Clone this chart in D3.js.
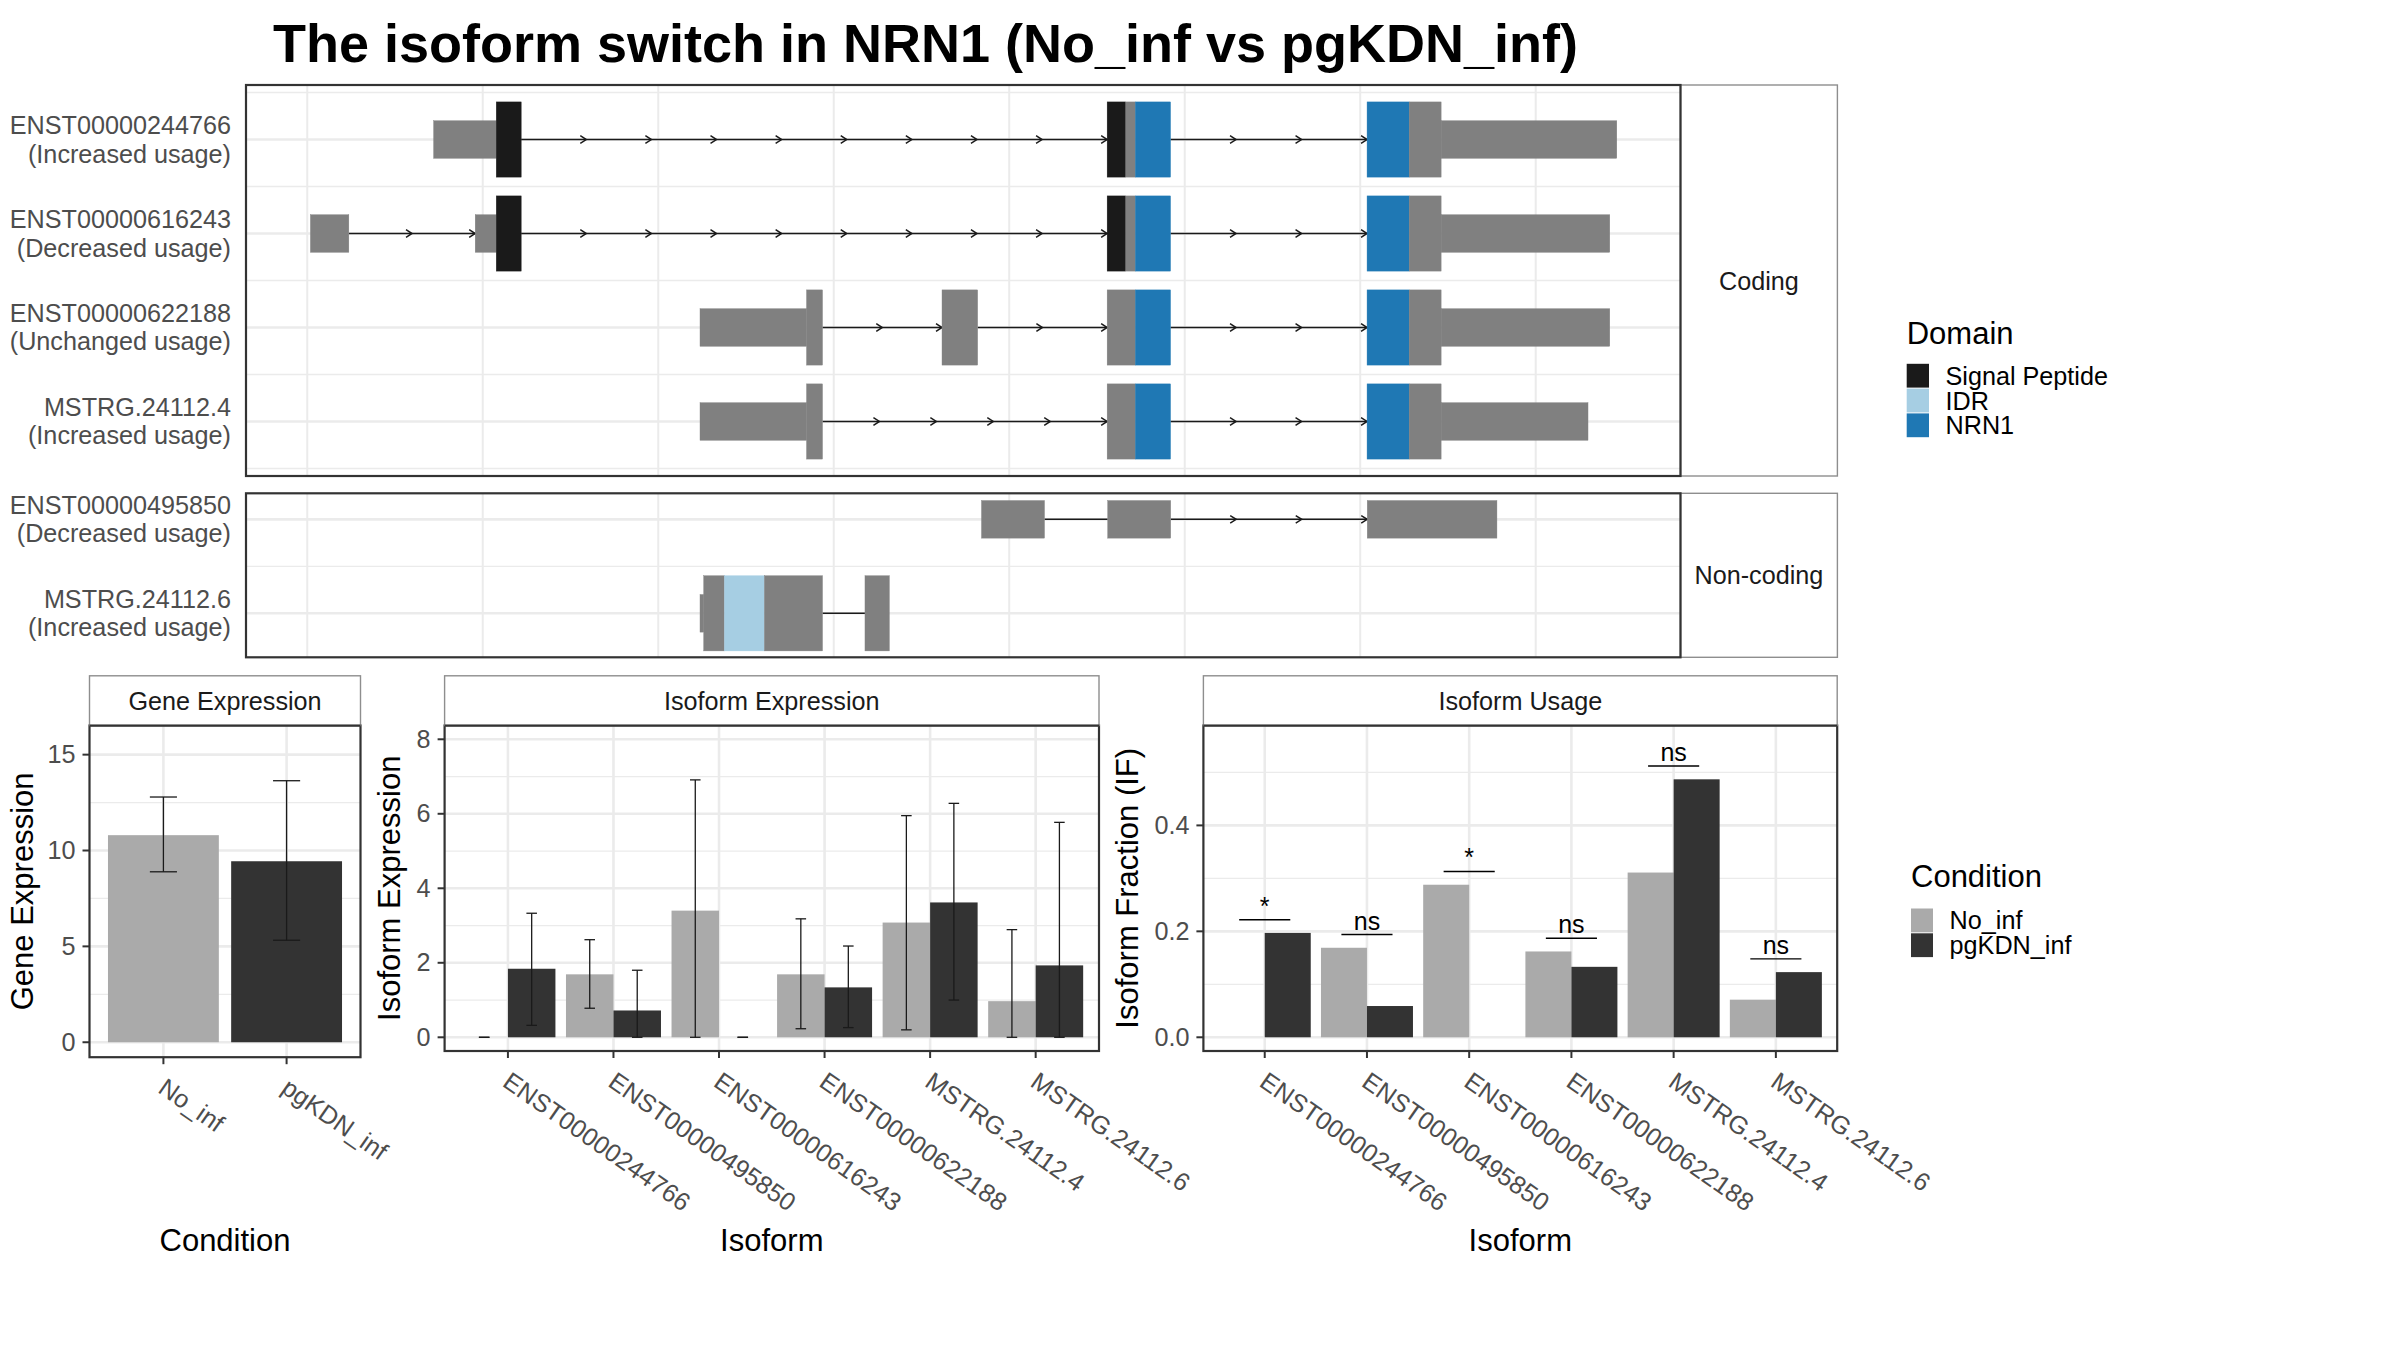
<!DOCTYPE html>
<html><head><meta charset="utf-8">
<script src="https://cdn.jsdelivr.net/npm/d3@7"></script>
<style>
body{margin:0;background:#fff}
svg{display:block}
text{font-family:"Liberation Sans",Arial,Helvetica,sans-serif}
</style>
</head><body>
<svg id="c" width="2400" height="1350"></svg>
<script>
// ---------------- DATA ----------------
const titleText = "The isoform switch in NRN1 (No_inf vs pgKDN_inf)";

const codingTranscripts = ["ENST00000244766","ENST00000616243","ENST00000622188","MSTRG.24112.4"];
const codingUsage = ["(Increased usage)","(Decreased usage)","(Unchanged usage)","(Increased usage)"];
const noncodingTranscripts = ["ENST00000495850","MSTRG.24112.6"];
const noncodingUsage = ["(Decreased usage)","(Increased usage)"];

// exon pieces: transcript, start, end, kind (cds = tall, utr = short), domain
const exonSegments = [
  ["ENST00000244766",0.720,1.077,"utr","none"],
  ["ENST00000244766",1.077,1.219,"cds","Signal Peptide"],
  ["ENST00000244766",4.558,4.664,"cds","Signal Peptide"],
  ["ENST00000244766",4.664,4.719,"cds","none"],
  ["ENST00000244766",4.719,4.919,"cds","NRN1"],
  ["ENST00000244766",6.039,6.279,"cds","NRN1"],
  ["ENST00000244766",6.279,6.461,"cds","none"],
  ["ENST00000244766",6.461,7.462,"utr","none"],

  ["ENST00000616243",0.018,0.237,"utr","none"],
  ["ENST00000616243",0.957,1.077,"utr","none"],
  ["ENST00000616243",1.077,1.219,"cds","Signal Peptide"],
  ["ENST00000616243",4.558,4.664,"cds","Signal Peptide"],
  ["ENST00000616243",4.664,4.719,"cds","none"],
  ["ENST00000616243",4.719,4.919,"cds","NRN1"],
  ["ENST00000616243",6.039,6.279,"cds","NRN1"],
  ["ENST00000616243",6.279,6.461,"cds","none"],
  ["ENST00000616243",6.461,7.422,"utr","none"],

  ["ENST00000622188",2.238,2.845,"utr","none"],
  ["ENST00000622188",2.845,2.936,"cds","none"],
  ["ENST00000622188",3.617,3.820,"cds","none"],
  ["ENST00000622188",4.558,4.719,"cds","none"],
  ["ENST00000622188",4.719,4.919,"cds","NRN1"],
  ["ENST00000622188",6.039,6.279,"cds","NRN1"],
  ["ENST00000622188",6.279,6.461,"cds","none"],
  ["ENST00000622188",6.461,7.422,"utr","none"],

  ["MSTRG.24112.4",2.238,2.845,"utr","none"],
  ["MSTRG.24112.4",2.845,2.936,"cds","none"],
  ["MSTRG.24112.4",4.558,4.719,"cds","none"],
  ["MSTRG.24112.4",4.719,4.919,"cds","NRN1"],
  ["MSTRG.24112.4",6.039,6.279,"cds","NRN1"],
  ["MSTRG.24112.4",6.279,6.461,"cds","none"],
  ["MSTRG.24112.4",6.461,7.298,"utr","none"],

  ["ENST00000495850",3.842,4.201,"utr","none"],
  ["ENST00000495850",4.561,4.920,"utr","none"],
  ["ENST00000495850",6.040,6.779,"utr","none"],

  ["MSTRG.24112.6",2.238,2.259,"utr","none"],
  ["MSTRG.24112.6",2.259,2.377,"cds","none"],
  ["MSTRG.24112.6",2.377,2.605,"cds","IDR"],
  ["MSTRG.24112.6",2.605,2.936,"cds","none"],
  ["MSTRG.24112.6",3.178,3.317,"cds","none"]
];

const domainNames = ["Signal Peptide","IDR","NRN1"];
const domainColors = ["#1A1A1A","#A6CEE3","#1F78B4"];

const conditions = ["No_inf","pgKDN_inf"];
const conditionColors = ["#AAAAAA","#333333"];

const geneExpr = [10.80, 9.44];
const geneErrLow = [8.89, 5.32];
const geneErrHigh = [12.79, 13.64];

const isoforms = ["ENST00000244766","ENST00000495850","ENST00000616243","ENST00000622188","MSTRG.24112.4","MSTRG.24112.6"];
const isoExprNoInf = [0, 1.69, 3.40, 1.69, 3.08, 0.97];
const isoExprPg    = [1.84, 0.72, 0, 1.34, 3.62, 1.93];
const isoExprNoInfLow  = [0, 0.78, 0, 0.23, 0.20, 0];
const isoExprNoInfHigh = [0, 2.62, 6.91, 3.18, 5.95, 2.89];
const isoExprPgLow  = [0.32, 0, 0, 0.26, 1.00, 0];
const isoExprPgHigh = [3.33, 1.80, 0, 2.45, 6.28, 5.77];

const usageNoInf = [0, 0.169, 0.288, 0.162, 0.311, 0.071];
const usagePg    = [0.197, 0.059, 0, 0.133, 0.487, 0.123];
const usageSig   = ["*","ns","*","ns","ns","ns"];

const geneTicks = [0,5,10,15];
const isoExprTicks = [0,2,4,6,8];
const usageTicks = [0,0.2,0.4];

// ---------------- STYLE ----------------
const svg = d3.select("#c");
const GRID = "#EBEBEB", BORDER = "#333333", STRIPB = "#8E8E8E";
const AXTXT = "#4D4D4D", STXT = "#1A1A1A";
const SMALL = 25.2, TITLE = 31;
const featureColor = f => f === "none" ? "#808080" : domainColors[domainNames.indexOf(f)];

// Title
svg.append("text").attr("x", 273).attr("y", 62)
  .attr("font-size", 54).attr("font-weight", "bold").attr("fill", "#000")
  .text(titleText);

// ---------------- TRANSCRIPT PANELS ----------------
const xT = d3.scaleLinear().domain([-0.349, 7.825]).range([246, 1680.5]);
const stripRight = 1837.4;
const trPanels = [
  {names: codingTranscripts, usage: codingUsage, label: "Coding", top: 85, bottom: 476, dom: [-0.58, 3.58]},
  {names: noncodingTranscripts, usage: noncodingUsage, label: "Non-coding", top: 493.3, bottom: 657.3, dom: [-0.277, 1.468]}
];

trPanels.forEach((p, pi) => {
  const yS = d3.scaleLinear().domain(p.dom).range([p.top, p.bottom]);
  const unit = yS(1) - yS(0);
  const x0 = xT.range()[0], x1 = xT.range()[1];
  const g = svg.append("g");
  const cid = "clipT" + pi;
  g.append("clipPath").attr("id", cid).append("rect")
    .attr("x", x0).attr("y", p.top).attr("width", x1 - x0).attr("height", p.bottom - p.top);
  const inner = g.append("g").attr("clip-path", `url(#${cid})`);
  inner.selectAll(".vg").data(xT.ticks(8)).join("line")
    .attr("x1", d => xT(d)).attr("x2", d => xT(d)).attr("y1", p.top).attr("y2", p.bottom)
    .attr("stroke", GRID).attr("stroke-width", 2);
  const minors = d3.range(-0.5, p.names.length, 1);
  inner.selectAll(".hm").data(minors).join("line")
    .attr("x1", x0).attr("x2", x1).attr("y1", d => yS(d)).attr("y2", d => yS(d))
    .attr("stroke", GRID).attr("stroke-width", 1.3);
  inner.selectAll(".hM").data(p.names).join("line")
    .attr("x1", x0).attr("x2", x1).attr("y1", (d, i) => yS(i)).attr("y2", (d, i) => yS(i))
    .attr("stroke", GRID).attr("stroke-width", 2.6);

  p.names.forEach((name, i) => {
    const cy = yS(i);
    const segs = exonSegments.filter(s => s[0] === name).sort((a, b) => a[1] - b[1]);
    for (let k = 0; k < segs.length - 1; k++) {
      const a = segs[k][2], b = segs[k + 1][1];
      if (b - a > 1e-6) {
        const xa = xT(a), xb = xT(b);
        inner.append("line").attr("x1", xa).attr("x2", xb).attr("y1", cy).attr("y2", cy)
          .attr("stroke", "#1A1A1A").attr("stroke-width", 1.5);
        const len = xb - xa;
        const n = len < 80 ? 0 : Math.max(1, Math.round(len / 62));
        for (let j = 1; j <= n; j++) {
          const tx = xa + len * j / n;
          inner.append("path").attr("d", `M${tx - 6},${cy - 3.8}L${tx},${cy}L${tx - 6},${cy + 3.8}`)
            .attr("fill", "none").attr("stroke", "#1A1A1A").attr("stroke-width", 1.5);
        }
      }
    }
    inner.selectAll(null).data(segs).join("rect")
      .attr("x", d => xT(d[1])).attr("width", d => xT(d[2]) - xT(d[1]))
      .attr("y", d => cy - (d[3] === "cds" ? 0.4 : 0.2) * unit)
      .attr("height", d => (d[3] === "cds" ? 0.8 : 0.4) * unit)
      .attr("fill", d => featureColor(d[4]))
      .attr("stroke", d => featureColor(d[4])).attr("stroke-width", 0.4);
    const lab = g.append("text").attr("text-anchor", "end").attr("font-size", SMALL).attr("fill", AXTXT);
    lab.append("tspan").attr("x", 231).attr("y", cy - 5.5).text(name);
    lab.append("tspan").attr("x", 231).attr("y", cy + 23).text(p.usage[i]);
  });
  g.append("rect").attr("x", x1).attr("y", p.top).attr("width", stripRight - x1).attr("height", p.bottom - p.top)
    .attr("fill", "#fff").attr("stroke", STRIPB).attr("stroke-width", 1.4);
  g.append("text").attr("x", (x1 + stripRight) / 2).attr("y", (p.top + p.bottom) / 2 + 9)
    .attr("text-anchor", "middle").attr("font-size", SMALL).attr("fill", STXT).text(p.label);
  g.append("rect").attr("x", x0).attr("y", p.top).attr("width", x1 - x0).attr("height", p.bottom - p.top)
    .attr("fill", "none").attr("stroke", BORDER).attr("stroke-width", 2.2);
});

// Domain legend
const dl = svg.append("g");
dl.append("text").attr("x", 1906.7).attr("y", 344).attr("font-size", TITLE).attr("fill", "#000").text("Domain");
domainNames.forEach((d, i) => {
  const ky = 363.8 + i * 24.8;
  dl.append("rect").attr("x", 1906.7).attr("y", ky).attr("width", 22.3).attr("height", 23.8).attr("fill", domainColors[i]);
  dl.append("text").attr("x", 1945.5).attr("y", ky + 11.9 + 9).attr("font-size", SMALL).attr("fill", "#000").text(d);
});

// ---------------- BAR PANELS ----------------
const STRIP_TOP = 675.8, PANEL_TOP = 725.5;

function barPanel(o) {
  const g = svg.append("g");
  const xs = d3.scalePoint().domain(o.cats).range([o.x0, o.x1]).padding(0.6);
  const step = xs.step();
  const ys = d3.scaleLinear().domain(o.yDomain).range([o.bottom, PANEL_TOP]);
  g.selectAll(".mi").data(o.minor).join("line")
    .attr("x1", o.x0).attr("x2", o.x1).attr("y1", d => ys(d)).attr("y2", d => ys(d))
    .attr("stroke", GRID).attr("stroke-width", 1.3);
  g.selectAll(".ma").data(o.ticks).join("line")
    .attr("x1", o.x0).attr("x2", o.x1).attr("y1", d => ys(d)).attr("y2", d => ys(d))
    .attr("stroke", GRID).attr("stroke-width", 2.6);
  g.selectAll(".vx").data(o.cats).join("line")
    .attr("x1", d => xs(d)).attr("x2", d => xs(d)).attr("y1", PANEL_TOP).attr("y2", o.bottom)
    .attr("stroke", GRID).attr("stroke-width", 2.6);
  o.series.forEach(s => {
    g.selectAll(null).data(o.cats).join("rect")
      .attr("x", d => xs(d) + s.off * step)
      .attr("width", s.w * step)
      .attr("y", (d, i) => ys(s.values[i]))
      .attr("height", (d, i) => ys(0) - ys(s.values[i]))
      .attr("fill", s.color);
  });
  o.series.forEach(s => {
    if (!s.lo) return;
    o.cats.forEach((c, i) => {
      const cx = xs(c) + (s.off + s.w / 2) * step;
      const hw = o.cap * step / 2;
      const yl = ys(s.lo[i]), yh = ys(s.hi[i]);
      const eg = g.append("g").attr("stroke", "#1A1A1A").attr("stroke-width", 1.3);
      eg.append("line").attr("x1", cx).attr("x2", cx).attr("y1", yl).attr("y2", yh);
      eg.append("line").attr("x1", cx - hw).attr("x2", cx + hw).attr("y1", yl).attr("y2", yl);
      eg.append("line").attr("x1", cx - hw).attr("x2", cx + hw).attr("y1", yh).attr("y2", yh);
    });
  });
  if (o.sig) {
    o.cats.forEach((c, i) => {
      const top = Math.max(o.series[0].values[i], o.series[1].values[i]) + 0.025;
      const ly = ys(top);
      g.append("line").attr("x1", xs(c) - 0.25 * step).attr("x2", xs(c) + 0.25 * step)
        .attr("y1", ly).attr("y2", ly).attr("stroke", "#000").attr("stroke-width", 1.4);
      g.append("text").attr("x", xs(c)).attr("y", ly - 5).attr("text-anchor", "middle")
        .attr("font-size", 25).attr("fill", "#000").text(o.sig[i]);
    });
  }
  g.append("rect").attr("x", o.x0).attr("y", PANEL_TOP).attr("width", o.x1 - o.x0).attr("height", o.bottom - PANEL_TOP)
    .attr("fill", "none").attr("stroke", BORDER).attr("stroke-width", 2.2);
  g.append("rect").attr("x", o.x0).attr("y", STRIP_TOP).attr("width", o.x1 - o.x0).attr("height", PANEL_TOP - STRIP_TOP)
    .attr("fill", "#fff").attr("stroke", STRIPB).attr("stroke-width", 1.4);
  g.append("line").attr("x1", o.x0).attr("x2", o.x1).attr("y1", PANEL_TOP).attr("y2", PANEL_TOP)
    .attr("stroke", BORDER).attr("stroke-width", 2.2);
  g.append("text").attr("x", (o.x0 + o.x1) / 2).attr("y", (STRIP_TOP + PANEL_TOP) / 2 + 9)
    .attr("text-anchor", "middle").attr("font-size", SMALL).attr("fill", STXT).text(o.strip);
  o.ticks.forEach(t => {
    g.append("line").attr("x1", o.x0 - 7).attr("x2", o.x0).attr("y1", ys(t)).attr("y2", ys(t))
      .attr("stroke", BORDER).attr("stroke-width", 2);
    g.append("text").attr("x", o.x0 - 14).attr("y", ys(t) + 8.7).attr("text-anchor", "end")
      .attr("font-size", SMALL).attr("fill", AXTXT).text(o.fmt(t));
  });
  o.cats.forEach(c => {
    g.append("line").attr("x1", xs(c)).attr("x2", xs(c)).attr("y1", o.bottom).attr("y2", o.bottom + 7)
      .attr("stroke", BORDER).attr("stroke-width", 2);
    g.append("text").attr("transform", `translate(${xs(c) + 4},${o.bottom + 19}) rotate(35)`)
      .attr("dy", "0.74em").attr("font-size", SMALL).attr("fill", AXTXT).text(c);
  });
  g.append("text").attr("transform", `translate(${o.yTitleX},${(PANEL_TOP + o.bottom) / 2}) rotate(-90)`)
    .attr("text-anchor", "middle").attr("font-size", TITLE).attr("fill", "#000").text(o.yTitle);
  g.append("text").attr("x", (o.x0 + o.x1) / 2).attr("y", 1251).attr("text-anchor", "middle")
    .attr("font-size", TITLE).attr("fill", "#000").text(o.xTitle);
}

barPanel({
  x0: 89.5, x1: 360.5, bottom: 1057.2, cats: conditions,
  yDomain: [-0.78, 16.52], ticks: geneTicks, minor: [2.5, 7.5, 12.5], fmt: d3.format("d"),
  series: [{values: geneExpr.map((v, i) => i === 0 ? v : 0), color: conditionColors[0], off: -0.45, w: 0.9},
           {values: geneExpr.map((v, i) => i === 1 ? v : 0), color: conditionColors[1], off: -0.45, w: 0.9}],
  cap: 0.22, strip: "Gene Expression", yTitle: "Gene Expression", yTitleX: 33, xTitle: "Condition"
});
(function () {
  const xs = d3.scalePoint().domain(conditions).range([89.5, 360.5]).padding(0.6);
  const ys = d3.scaleLinear().domain([-0.78, 16.52]).range([1057.2, PANEL_TOP]);
  const hw = 0.22 * xs.step() / 2;
  conditions.forEach((c, i) => {
    const eg = svg.append("g").attr("stroke", "#1A1A1A").attr("stroke-width", 1.3);
    eg.append("line").attr("x1", xs(c)).attr("x2", xs(c)).attr("y1", ys(geneErrLow[i])).attr("y2", ys(geneErrHigh[i]));
    [geneErrLow[i], geneErrHigh[i]].forEach(v =>
      eg.append("line").attr("x1", xs(c) - hw).attr("x2", xs(c) + hw).attr("y1", ys(v)).attr("y2", ys(v)));
  });
})();

barPanel({
  x0: 444.6, x1: 1099, bottom: 1051, cats: isoforms,
  yDomain: [-0.368, 8.37], ticks: isoExprTicks, minor: [1, 3, 5, 7], fmt: d3.format("d"),
  series: [{values: isoExprNoInf, color: conditionColors[0], off: -0.45, w: 0.45, lo: isoExprNoInfLow, hi: isoExprNoInfHigh},
           {values: isoExprPg, color: conditionColors[1], off: 0, w: 0.45, lo: isoExprPgLow, hi: isoExprPgHigh}],
  cap: 0.1, strip: "Isoform Expression", yTitle: "Isoform Expression", yTitleX: 400, xTitle: "Isoform"
});

barPanel({
  x0: 1203.4, x1: 1837.2, bottom: 1051, cats: isoforms,
  yDomain: [-0.0259, 0.5886], ticks: usageTicks, minor: [0.1, 0.3, 0.5], fmt: d3.format(".1f"),
  series: [{values: usageNoInf, color: conditionColors[0], off: -0.45, w: 0.45},
           {values: usagePg, color: conditionColors[1], off: 0, w: 0.45}],
  sig: usageSig, strip: "Isoform Usage", yTitle: "Isoform Fraction (IF)", yTitleX: 1138, xTitle: "Isoform"
});

// Condition legend
const cl = svg.append("g");
cl.append("text").attr("x", 1911).attr("y", 887.2).attr("font-size", TITLE).attr("fill", "#000").text("Condition");
conditions.forEach((c, i) => {
  const ky = 908.5 + i * 24.8;
  cl.append("rect").attr("x", 1911).attr("y", ky).attr("width", 22).attr("height", 23.8).attr("fill", conditionColors[i]);
  cl.append("text").attr("x", 1949.6).attr("y", ky + 11.9 + 9).attr("font-size", SMALL).attr("fill", "#000").text(c);
});
</script>
</body></html>
